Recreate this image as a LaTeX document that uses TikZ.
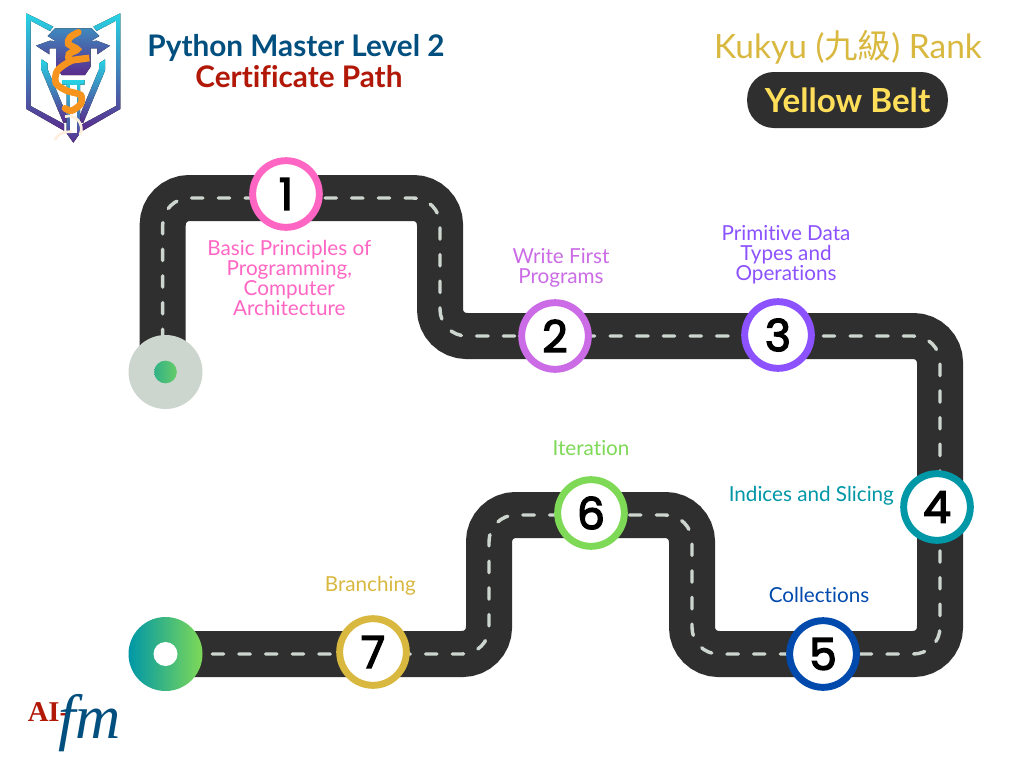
\documentclass[tikz,border=0pt]{standalone}
\usepackage{fontspec}
\setmainfont[Ligatures=NoCommon]{Lato}
\newfontfamily\cjkfont{Noto Sans CJK TC}
\newfontfamily\seriffont{Liberation Serif}
\newfontfamily\numfont[FakeBold=3.2]{Poppins}
\usetikzlibrary{arrows.meta,positioning,backgrounds}
\definecolor{Asphalt}{HTML}{2F2F2F}
\definecolor{Paint}{HTML}{CDD6CE}
\definecolor{Pink}{HTML}{FF66C4}
\definecolor{Orchid}{HTML}{CB6CE6}
\definecolor{Violet}{HTML}{8C52FF}
\definecolor{Teal}{HTML}{0097A7}
\definecolor{Navy}{HTML}{004AAD}
\definecolor{Lime}{HTML}{7ED957}
\definecolor{Gold}{HTML}{D9B83F}
\definecolor{Sun}{HTML}{FFDE59}
\definecolor{TitleBlue}{HTML}{004F7F}
\definecolor{TitleRed}{HTML}{B21807}
\definecolor{LogoCyan}{HTML}{27D3E4}
\definecolor{LogoPurple}{HTML}{5A2C8E}
\definecolor{LogoOrange}{HTML}{F7941D}

\begin{document}
\begin{tikzpicture}[
        x=0.75pt, y=-0.75pt,
        stopnode/.style={circle, draw=#1, line width=5.2pt, fill=white, minimum size=50pt, inner sep=0pt,
          font=\fontsize{33}{33}\selectfont\numfont, text=black},
        stoplabel/.style={text=#1, align=center, inner sep=0pt, font=\fontsize{15.5}{15}\selectfont},
        road/.style={draw=Asphalt, line width=34.5pt, rounded corners=20pt},
        roadpaint/.style={draw=Paint, line width=2.6pt, rounded corners=20pt, dash pattern=on 8.5pt off 11.5pt, dash phase=16.4pt, line cap=round},
        logopart/.style={top color=#1, bottom color=LogoPurple, draw=none},
        logoink/.style={draw=LogoOrange, line width=5pt, line cap=round}
      ]
        \useasboundingbox (0,0) rectangle (1024,768);

        % road stops
        \node[circle, minimum size=55.5pt, inner sep=0pt, fill=Paint] (start) at (165.5,372) {};
        \node[circle, minimum size=17pt, inner sep=0pt, left color=Teal!60!Lime, right color=Lime!80!Teal] (startdot) at (start) {};
        \node[stopnode=Pink] (stopone) at (286,194) {1};
        \node[stopnode=Orchid] (stoptwo) at (555,336) {2};
        \node[stopnode=Violet] (stopthree) at (778,335) {3};
        \node[stopnode=Teal] (stopfour) at (937,507) {4};
        \node[stopnode=Navy] (stopfive) at (823,654) {5};
        \node[stopnode=Lime] (stopsix) at (591,513) {6};
        \node[stopnode=Gold] (stopseven) at (373,652) {7};
        \node[circle, minimum size=55.5pt, inner sep=0pt, left color=Teal, right color=Lime] (finish) at (165.5,654) {};
        \node[circle, minimum size=18pt, inner sep=0pt, fill=white] (finishdot) at (finish) {};

        % road under the stops
        \begin{scope}[on background layer]
          \fill[white] (0,0) rectangle (1024,768);
          \foreach \roadstyle in {road,roadpaint}
            \draw[\roadstyle] ([xshift=-2.1pt]start.center) -- (162.7,198) -- (440,198) -- (440,336) -- (940,336) -- (940,654)
              -- (692,654) -- (692,515) -- (489,515) -- (489,654) -- (finish.center);
        \end{scope}

        % labels
        \node[stoplabel=Pink, below=7pt of stopone, xshift=2.5pt] (labelone) {Basic Principles of\\Programming,\\Computer\\Architecture};
        \node[stoplabel=Orchid, above=9pt of stoptwo, xshift=4.5pt] (labeltwo) {Write First\\Programs};
        \node[stoplabel=Violet, above=10.5pt of stopthree, xshift=6pt] (labelthree) {Primitive Data\\Types and\\Operations};
        \node[stoplabel=Teal, left=4.5pt of stopfour, yshift=8.5pt] (labelfour) {Indices and Slicing};
        \node[stoplabel=Navy, above=10.5pt of stopfive, xshift=-3pt] (labelfive) {Collections};
        \node[stoplabel=Lime, above=15.5pt of stopsix] (labelsix) {Iteration};
        \node[stoplabel=Gold, above=15pt of stopseven, xshift=-2pt] (labelseven) {Branching};

        % titles
        \node[text=TitleBlue, inner sep=0pt, font=\fontsize{22.3}{24}\selectfont\bfseries] (titleone) at (296,47.5) {Python Master Level 2};
        \node[text=TitleRed, inner sep=0pt, font=\fontsize{22.3}{24}\selectfont\bfseries, below=3pt of titleone, xshift=2.2pt] (titletwo) {Certificate Path};
        \node[text=Gold, inner sep=0pt, font=\fontsize{25.1}{28}\selectfont] (rank) at (848,47) {Kukyu ({\cjkfont 九級}) Rank};
        \node[fill=Asphalt, rounded corners=20pt, minimum width=150.5pt, minimum height=42pt, text=Sun,
          font=\fontsize{24.9}{26}\selectfont\bfseries] (belt) at (847.5,100) {Yellow Belt};

        % footer mark
        \node[text=TitleBlue, inner sep=0pt, anchor=base west, font=\fontsize{47}{47}\selectfont\seriffont\itshape] (mark) at (27.5,738)
          {\raisebox{12.75pt}{\fontsize{21.5}{22}\selectfont\bfseries\upshape\color{TitleRed}AI-}\kern-8pt fm};

        % logo, drawn in crop units
        \begin{scope}[x=0.25pt, y=-0.25pt]
          \fill[logopart=LogoCyan] (79,40) -- (160,80) -- (150,93) -- (92,62) -- (92,318) -- (192,372) -- (192,392) -- (79,327) -- cycle;
          \fill[logopart=LogoCyan] (361,40) -- (280,80) -- (290,93) -- (348,62) -- (348,318) -- (248,372) -- (248,392) -- (361,327) -- cycle;
          \fill[top color=LogoCyan!55!LogoPurple, bottom color=LogoPurple] (143,108) -- (165,85) -- (275,85) -- (298,108) -- (272,124) -- (290,122) -- (330,137)
            -- (292,163) -- (292,145) -- (272,145) -- (272,200) -- (255,225) -- (185,225) -- (168,200) -- (168,145) -- (148,145) -- (148,163) -- (108,137) -- (150,122) -- (168,124) -- cycle;
          \fill[logopart=LogoCyan] (125,178) -- (143,190) -- (143,208) -- (200,345) -- (200,368) -- (190,368) -- (125,212) -- cycle;
          \fill[logopart=LogoCyan] (315,178) -- (297,190) -- (297,208) -- (240,345) -- (240,368) -- (250,368) -- (315,212) -- cycle;
          \fill[logopart=LogoCyan] (186,240) -- (254,240) -- (254,254) -- (240,254) -- (240,400) -- (220,428) -- (200,400) -- (200,254) -- (186,254) -- cycle;
          \fill[white] (210,254) rectangle (230,398);
          \draw[LogoOrange!15, line width=2pt] (165,420) .. controls (175,400) and (190,395) .. (215,395);
          \draw[LogoOrange!15, line width=2pt] (195,350) .. controls (225,340) and (255,370) .. (240,405);
          \draw[logoink] plot[smooth] coordinates {(235,97) (210,112) (205,132) (232,148) (207,162) (212,180) (268,174) (215,182) (172,212) (168,250) (200,272) (242,285) (242,312) (215,332) (195,325)};
        \end{scope}
      \end{tikzpicture}
\end{document}
